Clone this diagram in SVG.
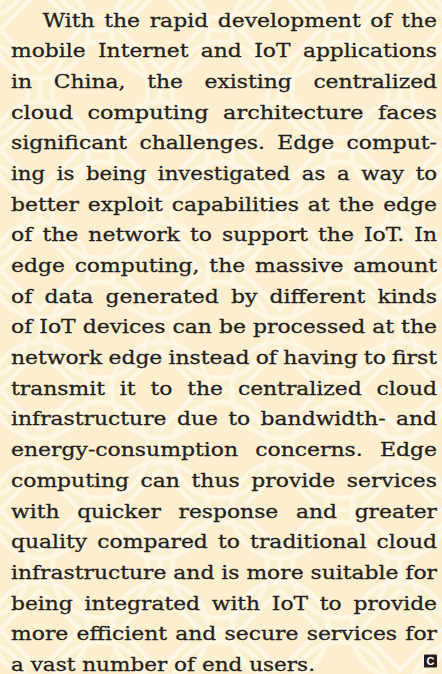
<svg xmlns="http://www.w3.org/2000/svg" width="442" height="674" viewBox="0 0 442 674">
<defs>
<pattern id="lattice" x="-20" y="-30" width="120" height="120" patternUnits="userSpaceOnUse">
<rect width="120" height="120" fill="#fcefcf"/>
<g fill="none" stroke="#fff7e4" stroke-width="5">
<circle cx="0" cy="0" r="48"/>
<circle cx="120" cy="0" r="48"/>
<circle cx="0" cy="120" r="48"/>
<circle cx="120" cy="120" r="48"/>
<circle cx="60" cy="60" r="48"/>
<path d="M60 20 L100 60 L60 100 L20 60 Z"/>
<path d="M0 60 L12 60 M108 60 L120 60 M60 0 L60 12 M60 108 L60 120"/>
</g>
</pattern>
<style>
.t{font-family:"DejaVu Serif","Liberation Serif",serif;font-size:19px;fill:#231f20;stroke:#231f20;stroke-width:0.3px}
</style>
</defs>
<rect id="background" width="442" height="674" fill="url(#lattice)"/>
<g id="body-text">
<text class="t" x="42.7" y="26.7" textLength="394.3" lengthAdjust="spacingAndGlyphs" word-spacing="2.3">With the rapid development of the</text>
<text class="t" x="11" y="57.4" textLength="426" lengthAdjust="spacingAndGlyphs" word-spacing="4.8">mobile Internet and IoT applications</text>
<text class="t" x="11" y="88.0" textLength="426" lengthAdjust="spacingAndGlyphs" word-spacing="12.9">in China, the existing centralized</text>
<text class="t" x="11" y="118.7" textLength="426" lengthAdjust="spacingAndGlyphs" word-spacing="6.3">cloud computing architecture faces</text>
<text class="t" x="11" y="149.4" textLength="426" lengthAdjust="spacingAndGlyphs" word-spacing="4.6">significant challenges. Edge comput-</text>
<text class="t" x="11" y="180.0" textLength="426" lengthAdjust="spacingAndGlyphs" word-spacing="4.3">ing is being investigated as a way to</text>
<text class="t" x="11" y="210.7" textLength="426" lengthAdjust="spacingAndGlyphs" word-spacing="1.7">better exploit capabilities at the edge</text>
<text class="t" x="11" y="241.4" textLength="426" lengthAdjust="spacingAndGlyphs" word-spacing="2.7">of the network to support the IoT. In</text>
<text class="t" x="11" y="272.1" textLength="426" lengthAdjust="spacingAndGlyphs" word-spacing="2.5">edge computing, the massive amount</text>
<text class="t" x="11" y="302.7" textLength="426" lengthAdjust="spacingAndGlyphs" word-spacing="4.5">of data generated by different kinds</text>
<text class="t" x="11" y="333.4" textLength="426" lengthAdjust="spacingAndGlyphs" word-spacing="0">of IoT devices can be processed at the</text>
<text class="t" x="11" y="364.1" textLength="426" lengthAdjust="spacingAndGlyphs" word-spacing="-0.6">network edge instead of having to first</text>
<text class="t" x="11" y="394.8" textLength="426" lengthAdjust="spacingAndGlyphs" word-spacing="6.9">transmit it to the centralized cloud</text>
<text class="t" x="11" y="425.4" textLength="426" lengthAdjust="spacingAndGlyphs" word-spacing="3.0">infrastructure due to bandwidth- and</text>
<text class="t" x="11" y="456.1" textLength="426" lengthAdjust="spacingAndGlyphs" word-spacing="8.9">energy-consumption concerns. Edge</text>
<text class="t" x="11" y="486.8" textLength="426" lengthAdjust="spacingAndGlyphs" word-spacing="4.1">computing can thus provide services</text>
<text class="t" x="11" y="517.5" textLength="426" lengthAdjust="spacingAndGlyphs" word-spacing="9.4">with quicker response and greater</text>
<text class="t" x="11" y="548.1" textLength="426" lengthAdjust="spacingAndGlyphs" word-spacing="2.8">quality compared to traditional cloud</text>
<text class="t" x="11" y="578.8" textLength="426" lengthAdjust="spacingAndGlyphs" word-spacing="0">infrastructure and is more suitable for</text>
<text class="t" x="11" y="609.5" textLength="426" lengthAdjust="spacingAndGlyphs" word-spacing="4.2">being integrated with IoT to provide</text>
<text class="t" x="11" y="640.1" textLength="426" lengthAdjust="spacingAndGlyphs" word-spacing="1.1">more efficient and secure services for</text>
<text class="t" x="11" y="670.8" textLength="304" lengthAdjust="spacingAndGlyphs">a vast number of end users.</text>
</g>
<g id="end-mark">
<rect x="424" y="654.5" width="13" height="13" rx="1" fill="#231f20"/>
<text x="430.5" y="665.3" text-anchor="middle" font-family="Liberation Sans, Arial, sans-serif" font-weight="bold" font-size="11" fill="#ffffff">C</text>
</g>
</svg>
